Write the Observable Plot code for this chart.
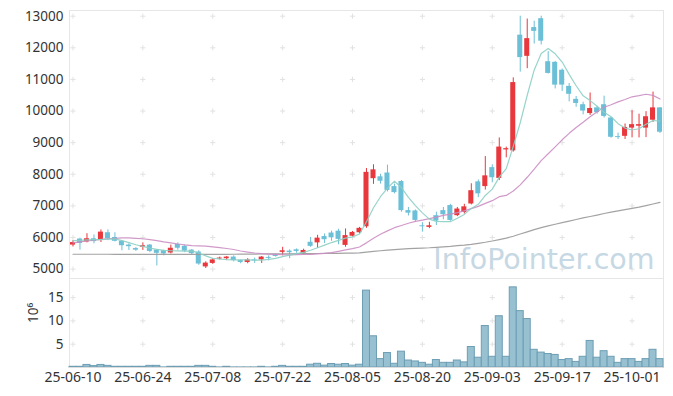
<!DOCTYPE html>
<html><head><meta charset="utf-8">
<script src="https://cdn.jsdelivr.net/npm/d3@7"></script>
<script src="https://cdn.jsdelivr.net/npm/@observablehq/plot@0.6"></script>
<style>
body{margin:0;background:#fff;}
#chart{width:673px;height:396px;overflow:hidden}
#chart svg{display:block}
</style></head><body><div id="chart"></div>
<script>
const dates = [
"25-06-10","25-06-11","25-06-12","25-06-13","25-06-16","25-06-17","25-06-18","25-06-19","25-06-20","25-06-23",
"25-06-24","25-06-25","25-06-26","25-06-27","25-06-30","25-07-01","25-07-02","25-07-03","25-07-04","25-07-07",
"25-07-08","25-07-09","25-07-10","25-07-11","25-07-14","25-07-15","25-07-16","25-07-17","25-07-18","25-07-21",
"25-07-22","25-07-23","25-07-24","25-07-25","25-07-28","25-07-29","25-07-30","25-07-31","25-08-01","25-08-04",
"25-08-05","25-08-06","25-08-07","25-08-08","25-08-11","25-08-12","25-08-13","25-08-14","25-08-18","25-08-19",
"25-08-20","25-08-21","25-08-22","25-08-25","25-08-26","25-08-27","25-08-28","25-08-29","25-09-01","25-09-02",
"25-09-03","25-09-04","25-09-05","25-09-08","25-09-09","25-09-10","25-09-11","25-09-12","25-09-15","25-09-16",
"25-09-17","25-09-18","25-09-19","25-09-22","25-09-23","25-09-24","25-09-25","25-09-26","25-09-29","25-09-30",
"25-10-01","25-10-02","25-10-10","25-10-13","25-10-14"];

const open = [5760,5950,5860,5960,5910,6150,6000,5880,5760,5650,
5690,5760,5600,5580,5510,5780,5720,5600,5540,5070,
5180,5320,5330,5380,5270,5210,5290,5290,5370,5450,
5530,5570,5610,5500,5850,5830,6030,6140,6200,5750,
6040,6150,6340,7860,7920,8040,7610,7770,6850,6840,
6370,6320,6690,6850,7010,6690,6790,7060,7760,7610,
8210,7870,8770,8740,12400,11730,12640,12920,11560,11540,
11290,10780,10370,10200,9920,10100,10200,9780,9190,9200,
9460,9520,9460,9710,10100];
const high = [5900,5980,6120,6080,6240,6240,6150,5900,5800,5680,
5830,5780,5620,5600,5760,5830,5760,5620,5580,5230,
5330,5380,5400,5420,5290,5330,5350,5400,5420,5470,
5690,5610,5640,5630,6000,6070,6110,6200,6260,6270,
6190,6320,8180,8300,8000,8290,7690,7800,6950,6870,
6470,6480,6800,6950,7050,6950,7050,7700,7820,8560,
8300,9150,8860,11050,13000,12910,12840,13000,11880,11570,
11330,10870,10460,10280,10570,10150,10470,9800,9300,9590,
10010,9900,9980,10600,10110];
const low = [5700,5600,5830,5800,5840,5900,5860,5580,5590,5560,
5590,5520,5100,5420,5480,5600,5520,5450,5120,5020,
5150,5290,5270,5230,5170,5170,5180,5180,5260,5380,
5420,5330,5500,5470,5690,5660,5810,5880,5770,5690,
6020,6110,6290,7680,7690,7440,7380,6800,6680,6490,
6170,6280,6380,6560,6510,6660,6740,7030,7260,7500,
7730,7800,8520,8700,11230,11340,12120,12090,11170,10700,
10620,10290,10120,9880,9860,9900,9780,9140,9100,9100,
9150,9150,9160,9640,9290];
const close = [5840,5810,5960,5870,6170,5960,5880,5740,5710,5600,
5740,5560,5500,5480,5660,5660,5570,5490,5160,5190,
5290,5350,5380,5270,5210,5290,5260,5380,5340,5400,
5580,5520,5560,5590,5720,5980,5930,5990,5940,6060,
6160,6290,8060,8140,7780,7490,7420,6850,6770,6540,
6340,6370,6520,6720,6540,6900,6970,7480,7380,7950,
7890,8860,8810,10900,11690,12290,12520,12210,11190,10820,
10820,10530,10240,10000,10080,9950,9830,9170,9160,9480,
9570,9570,9820,10100,9330];
// volume in millions of shares
const volume = [0.15,0.15,0.55,0.3,0.55,0.35,0.15,0.15,0.15,0.15,
0.15,0.35,0.35,0.02,0.15,0.15,0.15,0.15,0.35,0.35,
0.15,0.02,0.15,0.02,0.02,0.02,0.02,0.15,0.02,0.15,
0.35,0.15,0.15,0.15,0.6,0.8,0.4,0.75,0.6,0.75,
0.4,0.6,16.5,6.7,1.8,3.1,0.8,3.4,1.5,1.3,
1.0,0.6,1.6,1.0,1.0,1.5,1.1,4.4,2.1,8.9,
2.3,11.0,2.3,17.2,12.1,10.4,3.8,3.2,2.9,2.7,
1.6,1.8,1.2,2.3,5.7,2.1,3.5,2.3,1.0,1.8,
1.8,1.2,1.8,3.8,1.8];
const ma5 = [5900,5910,5925,5935,5935,5950,5955,5900,5840,5770,
5720,5665,5625,5590,5580,5575,5572,5575,5510,5420,
5340,5320,5300,5290,5295,5290,5285,5285,5310,5340,
5395,5445,5490,5530,5595,5675,5760,5840,5910,5980,
6020,6110,6500,6940,7290,7560,7780,7580,7270,7010,
6780,6580,6510,6500,6500,6610,6730,6920,7050,7330,
7530,7910,8180,8880,9630,10500,11300,11820,11980,11810,
11550,11160,10800,10480,10330,10150,9960,9820,9600,9460,
9400,9440,9580,9700,9680];
const ma20 = [5830,5860,5890,5915,5940,5960,5975,5985,5985,5975,
5960,5935,5900,5860,5830,5795,5765,5740,5735,5730,
5703,5680,5651,5621,5573,5540,5509,5491,5473,5463,
5455,5453,5456,5462,5465,5481,5499,5524,5563,5607,
5650,5700,5830,5975,6100,6210,6310,6380,6450,6510,
6550,6595,6645,6700,6740,6785,6840,6915,6985,7080,
7165,7290,7330,7470,7665,7905,8160,8430,8650,8865,
9090,9295,9480,9645,9820,9975,10120,10200,10290,10365,
10450,10485,10530,10495,10380];
const ma60 = [5470,5470,5470,5470,5470,5470,5469,5469,5468,5468,
5467,5467,5466,5466,5465,5465,5465,5465,5464,5464,
5464,5466,5468,5470,5472,5474,5476,5478,5480,5482,
5484,5486,5488,5490,5492,5494,5496,5498,5500,5503,
5506,5515,5540,5560,5580,5600,5615,5630,5645,5655,
5665,5675,5690,5705,5720,5740,5760,5785,5815,5850,
5890,5935,5980,6040,6110,6180,6250,6310,6370,6420,
6470,6520,6570,6620,6665,6710,6760,6800,6840,6880,
6920,6960,7010,7060,7110];

const priceTicks = [5000,6000,7000,8000,9000,10000,11000,12000,13000];
const volumeTicks = [5,10,15];
const dateTicks = ["25-06-10","25-06-24","25-07-08","25-07-22","25-08-05","25-08-20","25-09-03","25-09-17","25-10-01"];

const UP = "#e8383d", DOWN = "#6bbfd7";
const FONT = "'Noto Sans', sans-serif";

const data = dates.map((d, i) => ({
  date: d, open: open[i], high: high[i], low: low[i], close: close[i],
  volume: volume[i], ma5: ma5[i], ma20: ma20[i], ma60: ma60[i],
  color: close[i] >= open[i] ? UP : DOWN
}));

const priceGrid = dateTicks.flatMap(d => priceTicks.map(p => ({date: d, v: p})));
const volGrid = dateTicks.flatMap(d => volumeTicks.map(p => ({date: d, v: p})));

const price = Plot.plot({
  width: 673, height: 278,
  marginTop: 10, marginBottom: 0, marginLeft: 69, marginRight: 10,
  style: {fontFamily: FONT, fontSize: "13px", color: "#333", background: "transparent"},
  x: {type: "band", domain: dates, paddingInner: 0.28, paddingOuter: 0.14, axis: null},
  y: {domain: [4703, 13180]},
  color: {type: "identity"},
  marks: [
    Plot.frame({stroke: "#e6e6e6"}),
    Plot.dot(priceGrid, {x: "date", y: "v", symbol: "plus", r: 1.8, stroke: "#e2e2e2", strokeWidth: 1}),
    Plot.axisY({ticks: priceTicks, tickSize: 0, tickPadding: 6, tickFormat: d => String(d), label: null, fontSize: 13.5, fill: "#333"}),
    Plot.text(["InfoPointer.com"], {frameAnchor: "bottom-right", dx: -9, dy: -10, textAnchor: "end", lineAnchor: "bottom",
      fontSize: 28.5, fill: "#c6d8e3", fontFamily: "'DejaVu Sans', sans-serif"}),
    Plot.ruleX(data, {x: "date", y1: "low", y2: "high", stroke: "color", strokeWidth: 1}),
    Plot.barY(data, {x: "date", y1: "open", y2: "close", fill: "color"}),
    Plot.line(data, {x: "date", y: "ma60", stroke: "#999999", strokeWidth: 1.2, strokeOpacity: 0.9}),
    Plot.line(data, {x: "date", y: "ma20", stroke: "#cc8ec3", strokeWidth: 1.2, strokeOpacity: 0.9}),
    Plot.line(data, {x: "date", y: "ma5", stroke: "#8ccfc4", strokeWidth: 1.2, strokeOpacity: 0.9})
  ]
});

const vol = Plot.plot({
  width: 673, height: 118,
  marginTop: 0, marginBottom: 29, marginLeft: 69, marginRight: 10,
  style: {fontFamily: FONT, fontSize: "13px", color: "#333", background: "transparent"},
  x: {type: "band", domain: dates, paddingInner: 0, paddingOuter: 0},
  y: {domain: [0, 19.1]},
  marks: [
    Plot.frame({stroke: "#e6e6e6"}),
    Plot.dot(volGrid, {x: "date", y: "v", symbol: "plus", r: 1.8, stroke: "#e2e2e2", strokeWidth: 1}),
    Plot.barY(data, {x: "date", y: "volume", fill: "#97c0d1", stroke: "#6d9eb4", strokeWidth: 1}),
    Plot.ruleY([0], {stroke: "#dddddd"}),
    Plot.axisY({ticks: volumeTicks, tickSize: 0, tickPadding: 6, label: null, fontSize: 13.5, fill: "#333"}),
    Plot.axisX({ticks: dateTicks, tickSize: 0, tickPadding: 5, label: null, fontSize: 14, fill: "#333"}),
    Plot.text(["10⁶"], {frameAnchor: "left", dx: -36, rotate: -90, fontSize: 13.5, fill: "#333"})
  ]
});

document.getElementById("chart").append(price, vol);
</script>
</body></html>
